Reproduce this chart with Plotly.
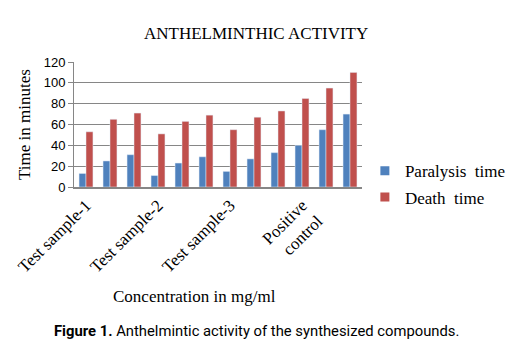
import plotly.graph_objects as go

# ---- data ----
group_labels = ["Test sample-1", "", "", "Test sample-2", "", "", "Test sample-3", "", "",
                "Positive<br>control", "", ""]
paralysis_time = [13, 25, 31, 11, 23, 29, 15, 27, 33, 40, 55, 70]
death_time = [53, 65, 71, 51, 63, 69, 55, 67, 73, 85, 95, 110]
series_names = ["Paralysis  time", "Death  time"]
y_ticks = [0, 20, 40, 60, 80, 100, 120]

BLUE = "#4F81BD"
RED = "#C0504D"
SERIF = "Liberation Serif, Times New Roman, serif"
SANS = "Liberation Sans, Arial, sans-serif"

xpos = list(range(len(group_labels)))
tickvals = [i for i, t in enumerate(group_labels) if t]
ticktext = [t for t in group_labels if t]

fig = go.Figure()
fig.add_trace(go.Bar(x=xpos, y=paralysis_time, name=series_names[0], marker_color=BLUE,
                     showlegend=False))
fig.add_trace(go.Bar(x=xpos, y=death_time, name=series_names[1], marker_color=RED,
                     showlegend=False))
# legend entries with small square keys
for nm, col in zip(series_names, [BLUE, RED]):
    fig.add_trace(go.Scatter(x=[None], y=[None], mode="markers", name=nm, legendgroup=nm,
                             marker=dict(symbol="square", size=9, color=col)))

# page body has an 8px margin, so the figure is sized/placed to compensate
fig.update_layout(
    width=511, height=349,
    margin=dict(l=66, r=157, t=54, b=170, autoexpand=False),
    paper_bgcolor="white", plot_bgcolor="white",
    barmode="group", bargap=0.42, bargroupgap=0,
    font=dict(family=SERIF, color="black"),
    showlegend=True,
    legend=dict(x=1.01, y=0.27, xanchor="left", yanchor="top",
                font=dict(family=SERIF, size=17, color="black"),
                tracegroupgap=1, itemwidth=30, bgcolor="rgba(0,0,0,0)"),
    xaxis=dict(range=[-0.5, 11.5], tickmode="array", tickvals=tickvals, ticktext=ticktext,
               tickangle=-45, tickfont=dict(family=SERIF, size=17, color="black"),
               showline=True, linecolor="#868686", linewidth=1.5, showgrid=False,
               ticks="", zeroline=False, automargin=False),
    yaxis=dict(range=[0, 120], tickmode="array", tickvals=y_ticks,
               tickfont=dict(family=SANS, size=13, color="black"),
               showline=True, linecolor="#868686", linewidth=1,
               showgrid=True, gridcolor="#868686", gridwidth=1,
               ticks="outside", ticklen=5, tickcolor="#868686", zeroline=False, automargin=False,
               title=dict(text="Time in minutes", font=dict(family=SERIF, size=17, color="black"),
                          standoff=8)),
)

fig.add_annotation(text="ANTHELMINTHIC ACTIVITY", xref="paper", yref="paper",
                   x=(256 - 74) / 288, y=(186.5 - 34) / 124.5, showarrow=False,
                   font=dict(family=SERIF, size=17, color="black"), xanchor="center", yanchor="middle")
fig.add_annotation(text="Concentration in mg/ml", xref="paper", yref="paper",
                   x=(194 - 74) / 288, y=(186.5 - 296) / 124.5, showarrow=False,
                   font=dict(family=SERIF, size=17, color="black"), xanchor="center", yanchor="middle")
fig.add_annotation(text="<b>Figure 1.</b> Anthelmintic activity of the synthesized compounds.",
                   xref="paper", yref="paper",
                   x=(256 - 74) / 288, y=(186.5 - 330) / 124.5, showarrow=False,
                   font=dict(family="Roboto, sans-serif", size=14.8, color="black"),
                   xanchor="center", yanchor="middle")

fig.write_html("out.html")
